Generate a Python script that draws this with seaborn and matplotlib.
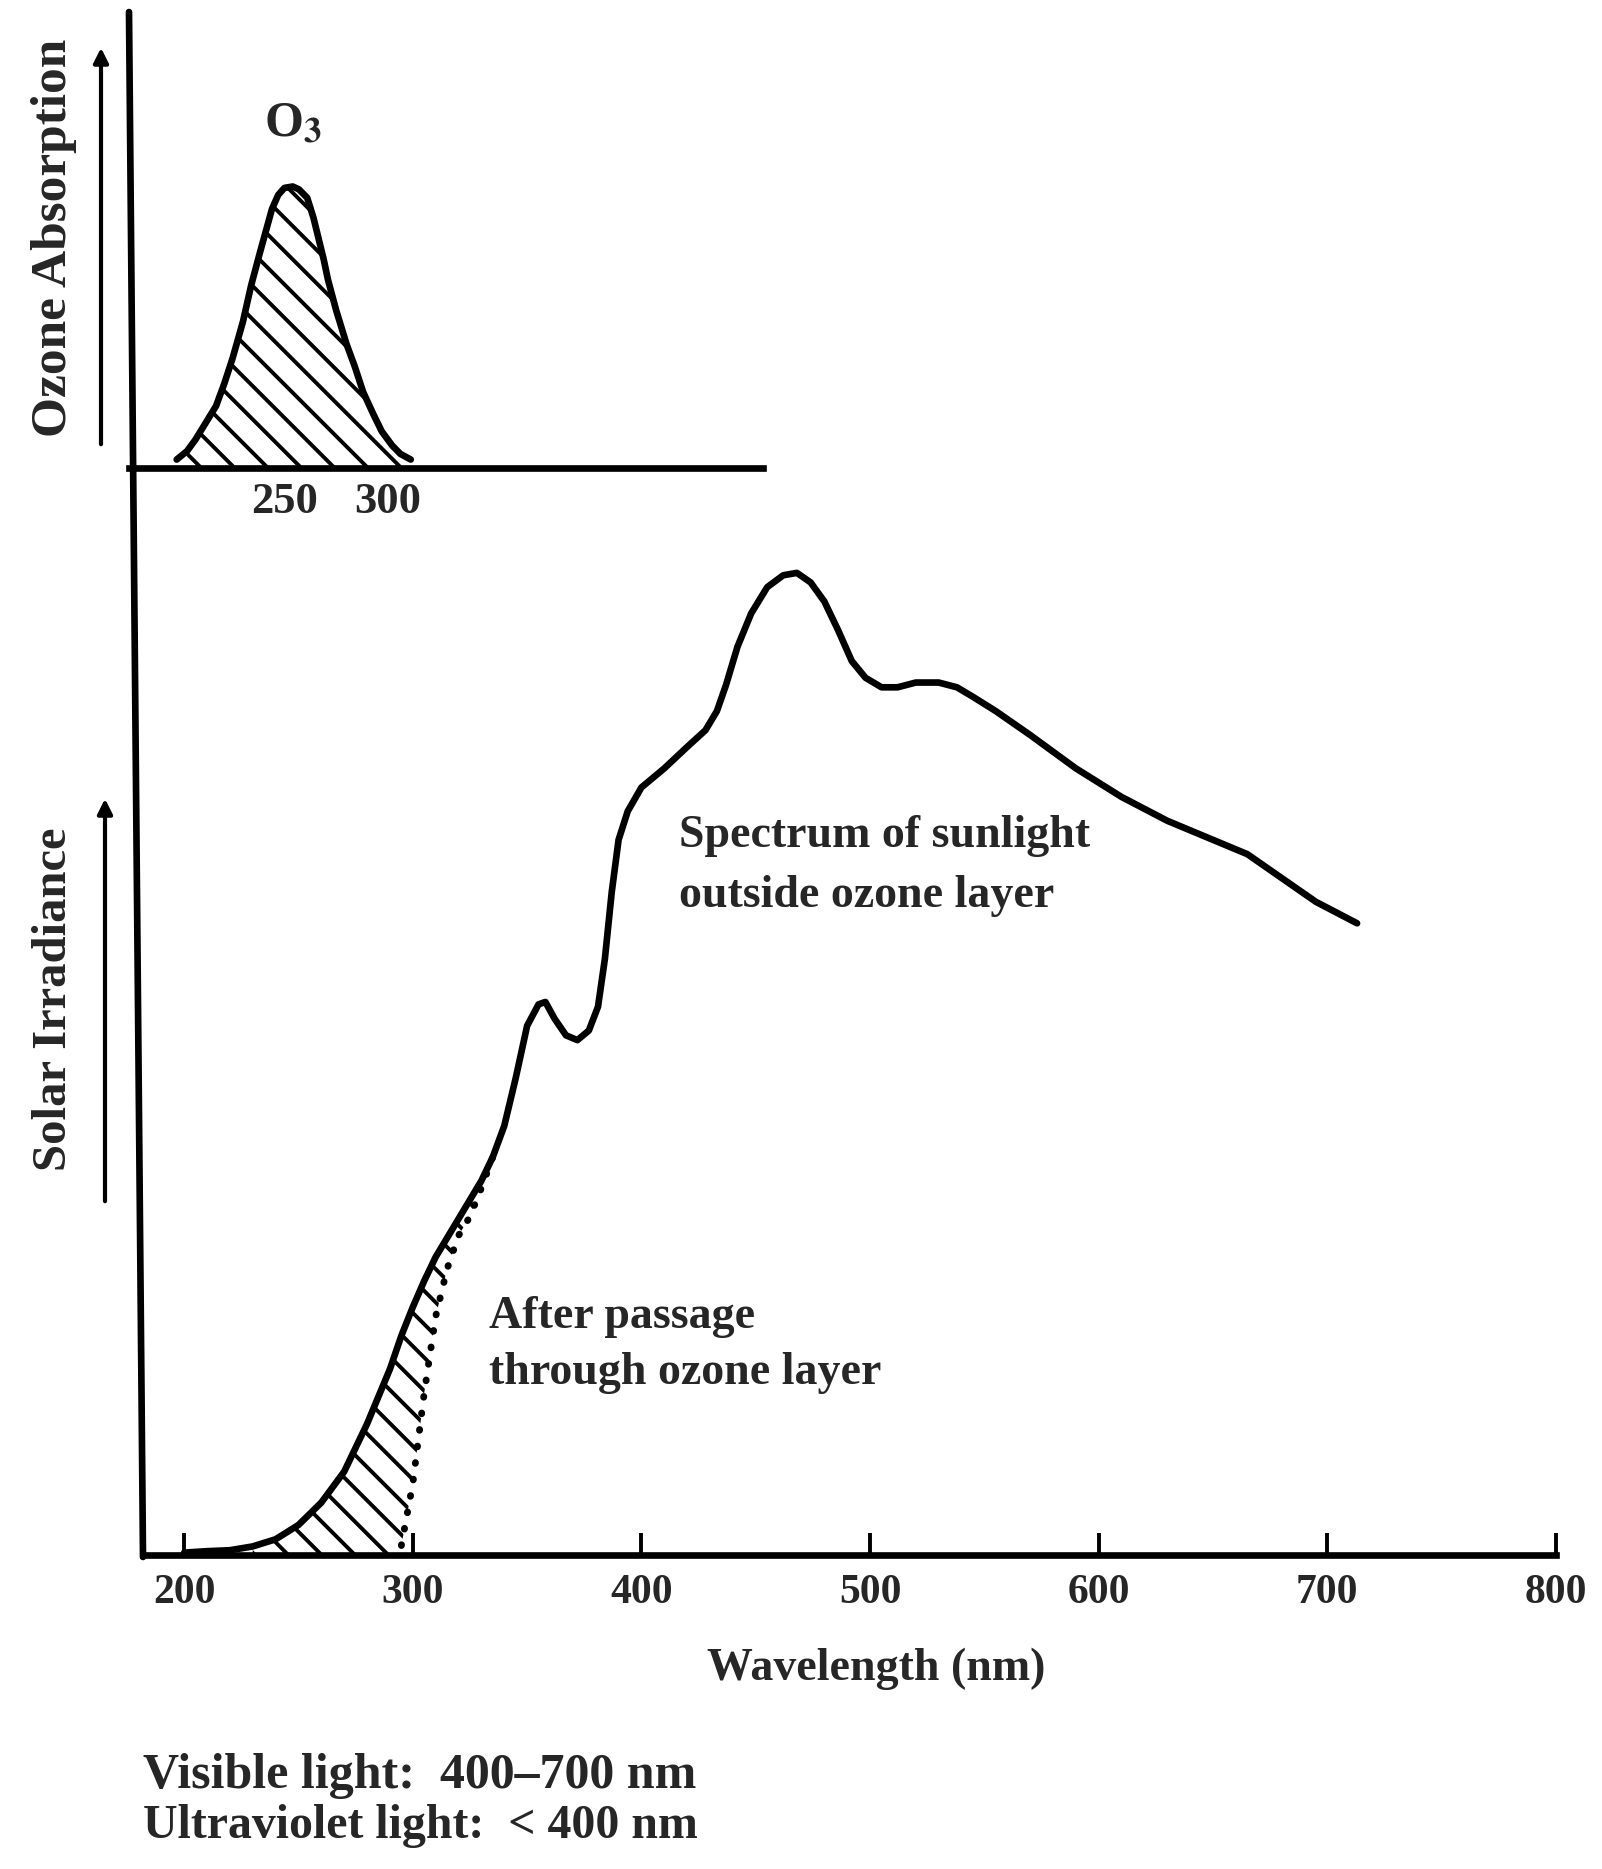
import matplotlib
matplotlib.use("Agg")
import matplotlib.pyplot as plt
from matplotlib.lines import Line2D
import numpy as np
import pandas as pd
import seaborn as sns

# ---------------- data ----------------
outside_wavelength = [200, 210, 220, 230, 240, 250, 260, 270, 280, 290, 295, 300, 305, 310,
                      315, 320, 325, 330, 335, 340, 345, 350, 355, 358, 362, 367, 372, 377,
                      381, 384, 387, 390, 394, 400, 410, 420, 428, 433, 437, 442, 448, 455,
                      462, 468, 474, 480, 486, 492, 498, 505, 512, 520, 530, 538, 545, 555,
                      570, 590, 610, 630, 650, 665, 680, 695, 713]
outside_irradiance = [0.005, 0.008, 0.01, 0.018, 0.033, 0.063, 0.11, 0.175, 0.275, 0.39, 0.46,
                      0.52, 0.575, 0.625, 0.665, 0.705, 0.745, 0.785, 0.835, 0.90, 1.0, 1.11,
                      1.155, 1.16, 1.125, 1.09, 1.08, 1.10, 1.15, 1.25, 1.39, 1.50, 1.56, 1.61,
                      1.65, 1.695, 1.73, 1.77, 1.825, 1.905, 1.975, 2.03, 2.055, 2.06, 2.04,
                      2.0, 1.94, 1.875, 1.84, 1.82, 1.82, 1.83, 1.83, 1.82, 1.80, 1.77, 1.72,
                      1.65, 1.59, 1.54, 1.50, 1.47, 1.42, 1.37, 1.325]

after_wavelength = [230, 240, 250, 260, 270, 280, 290, 295, 300, 305, 310, 315, 320, 325, 330, 335]
after_irradiance = [0, 0, 0, 0, 0, 0, 0, 0.02, 0.15, 0.34, 0.50, 0.60, 0.67, 0.71, 0.77, 0.835]

ozone_wavelength = [198, 203, 207, 212, 217, 221, 225, 230, 234, 238, 241, 244, 247, 250, 254,
                    257, 261, 264, 266, 269, 271, 275, 280, 284, 288, 293, 297, 302, 306, 311]
ozone_absorption = [0.03, 0.06, 0.10, 0.16, 0.22, 0.30, 0.39, 0.52, 0.65, 0.76, 0.84, 0.92,
                    0.97, 0.995, 1.0, 0.99, 0.96, 0.89, 0.83, 0.74, 0.67, 0.56, 0.44, 0.36,
                    0.27, 0.19, 0.13, 0.08, 0.05, 0.03]

main_ticks = [200, 300, 400, 500, 600, 700, 800]
inset_ticks = [250, 300]

# ---------------- styling ----------------
sns.set_theme(style="white")
plt.rcParams['font.family'] = ['Liberation Serif', 'DejaVu Serif']
plt.rcParams['font.weight'] = 'bold'
plt.rcParams['mathtext.fontset'] = 'stix'
plt.rcParams['hatch.linewidth'] = 2.8
plt.rcParams['hatch.color'] = 'black'

W, H = 1602, 1869
fx = lambda px: px / W
fy = lambda py: 1 - py / H

fig = plt.figure(figsize=(W / 100, H / 100), dpi=100)
fig.patch.set_facecolor('white')

LW = 4.8

# ---------------- main axes ----------------
ax = fig.add_axes([fx(143), fy(1555), (1556 - 143) / W, (1555 - 468) / H])
ax.set_facecolor('none')
sol = pd.DataFrame({"wavelength": outside_wavelength, "irradiance": outside_irradiance})
aft = pd.DataFrame({"wavelength": after_wavelength, "after": after_irradiance})
both = aft.merge(sol, on="wavelength")

ax.fill_between(both["wavelength"], both["after"], both["irradiance"],
                facecolor='none', edgecolor='black', hatch='\\', linewidth=0)
sns.lineplot(data=sol, x="wavelength", y="irradiance", ax=ax, color='black',
             lw=LW, solid_capstyle='round', solid_joinstyle='round')
pos = both[both["after"] > 0]
ax.plot(pos["wavelength"], pos["after"], color='black', lw=5,
        linestyle=(0, (0.1, 2.3)), dash_capstyle='round')

ax.set_xlim(182, 800)
ax.set_ylim(0, 2.28)
ax.set_xticks(main_ticks)
ax.set_xticklabels([str(t) for t in main_ticks])
ax.set_yticks([])
ax.set_xlabel("Wavelength (nm)", fontsize=33, fontweight='bold')
ax.xaxis.set_label_coords(0.519, -0.085)
ax.set_ylabel("")
for s in ['top', 'right', 'left']:
    ax.spines[s].set_visible(False)
ax.spines['bottom'].set_linewidth(LW)
ax.spines['bottom'].set_color('black')
ax.tick_params(axis='x', direction='in', length=16, width=2.8, color='black',
               labelsize=30, pad=14, bottom=True)

# ---------------- inset axes (ozone absorption) ----------------
ia = fig.add_axes([fx(129), fy(468), (763 - 129) / W, (468 - 12) / H])
ia.set_facecolor('none')
oz = pd.DataFrame({"wavelength": ozone_wavelength, "absorption": ozone_absorption})
ia.fill_between(oz["wavelength"], 0, oz["absorption"], facecolor='none',
                edgecolor='black', hatch='\\', linewidth=0)
sns.lineplot(data=oz, x="wavelength", y="absorption", ax=ia, color='black',
             lw=LW, solid_capstyle='round', solid_joinstyle='round')
ia.set_xlim(175, 481)
ia.set_ylim(0, 1.62)
ia.set_xticks(inset_ticks)
ia.set_xticklabels([str(t) for t in inset_ticks])
ia.set_yticks([])
ia.set_xlabel("")
ia.set_ylabel("")
for s in ['top', 'right', 'left']:
    ia.spines[s].set_visible(False)
ia.spines['bottom'].set_linewidth(LW)
ia.spines['bottom'].set_color('black')
ia.tick_params(axis='x', length=0, labelsize=32, pad=10)
ia.text(254, 1.14, r"O$_3$", fontsize=36, ha='center', va='bottom')

# ---------------- shared vertical axis line ----------------
fig.add_artist(Line2D([fx(129), fx(143)], [fy(12), fy(1557)],
                      transform=fig.transFigure, color='black', lw=LW))

# ---------------- axis titles with arrows ----------------
fig.text(fx(54), fy(238), "Ozone Absorption", rotation=90, ha='center', va='center',
         fontsize=37, fontweight='bold')
fig.text(fx(54), fy(999), "Solar Irradiance", rotation=90, ha='center', va='center',
         fontsize=35, fontweight='bold')
for x0, y0, y1 in [(101, 447, 45), (105, 1204, 796)]:
    fig.add_artist(matplotlib.patches.FancyArrowPatch(
        (fx(x0), fy(y0)), (fx(x0), fy(y1)), transform=fig.transFigure,
        arrowstyle='-|>', mutation_scale=22, lw=3, color='black'))

# ---------------- annotations ----------------
fig.text(fx(679), fy(836), "Spectrum of sunlight", fontsize=33, fontweight='bold',
         ha='left', va='center')
fig.text(fx(679), fy(896), "outside ozone layer", fontsize=33, fontweight='bold',
         ha='left', va='center')
fig.text(fx(489), fy(1317), "After passage", fontsize=33, fontweight='bold',
         ha='left', va='center')
fig.text(fx(489), fy(1373), "through ozone layer", fontsize=33, fontweight='bold',
         ha='left', va='center')

fig.text(fx(143), fy(1776), "Visible light:  400\u2013700 nm", fontsize=36,
         fontweight='bold', ha='left', va='center')
fig.text(fx(143), fy(1826), "Ultraviolet light:  < 400 nm", fontsize=34.5,
         fontweight='bold', ha='left', va='center')

fig.savefig("out.png", dpi=100, facecolor='white')
